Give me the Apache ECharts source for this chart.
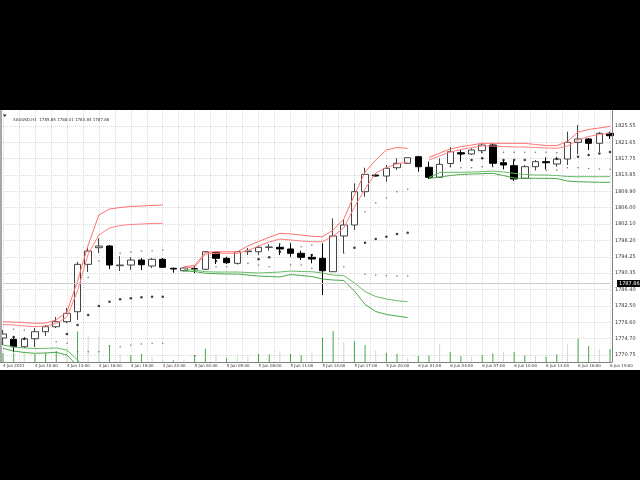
<!DOCTYPE html>
<html>
<head>
<meta charset="utf-8">
<script src="https://cdn.jsdelivr.net/npm/echarts@6/dist/echarts.min.js"></script>
<style>
html,body{margin:0;padding:0;background:#000;}
#c{width:640px;height:480px;}
</style>
</head>
<body>
<div id="c"></div>
<script>
const headerText = 'XAUUSD,H1  1785.85 1788.01 1783.84 1787.86';
const firstLabel = '4 Jun 2021';
const categories = [
 '4 Jun 07:00','4 Jun 08:00','4 Jun 09:00','4 Jun 10:00','4 Jun 11:00','4 Jun 12:00','4 Jun 13:00','4 Jun 14:00',
 '4 Jun 15:00','4 Jun 16:00','4 Jun 17:00','4 Jun 18:00','4 Jun 19:00','4 Jun 20:00','4 Jun 21:00','4 Jun 22:00',
 '4 Jun 23:00','5 Jun 01:00','5 Jun 02:00','5 Jun 03:00','5 Jun 04:00','5 Jun 05:00','5 Jun 06:00','5 Jun 07:00',
 '5 Jun 08:00','5 Jun 09:00','5 Jun 10:00','5 Jun 11:00','5 Jun 12:00','5 Jun 13:00','5 Jun 14:00','5 Jun 15:00',
 '5 Jun 16:00','5 Jun 17:00','5 Jun 18:00','5 Jun 19:00','5 Jun 20:00','5 Jun 21:00','5 Jun 23:00','6 Jun 01:00',
 '6 Jun 02:00','6 Jun 03:00','6 Jun 04:00','6 Jun 05:00','6 Jun 06:00','6 Jun 07:00','6 Jun 08:00','6 Jun 09:00',
 '6 Jun 10:00','6 Jun 11:00','6 Jun 12:00','6 Jun 13:00','6 Jun 14:00','6 Jun 15:00','6 Jun 16:00','6 Jun 17:00',
 '6 Jun 18:00','6 Jun 19:00'];
// [open, close, low, high]
const candles = [
[1774.82,1775.78,1773.14,1776.73],[1774.51,1772.74,1771.47,1775.13],[1772.74,1774.65,1772.43,1775.06],
[1774.65,1776.33,1772.66,1777.21],[1776.33,1777.52,1775.30,1777.93],[1777.52,1778.72,1777.21,1779.84],
[1778.72,1780.73,1778.41,1782.00],[1781.11,1792.45,1779.13,1793.08],[1792.45,1795.64,1790.61,1796.36],
[1796.43,1796.83,1795.16,1798.68],[1796.83,1792.29,1791.33,1797.07],[1792.12,1792.29,1790.85,1794.44],
[1792.29,1793.48,1791.09,1794.20],[1793.48,1792.36,1791.09,1793.96],[1792.05,1793.65,1791.57,1793.96],
[1793.65,1791.74,1791.57,1793.96],[1791.50,1791.33,1790.45,1791.64],[1790.92,1791.57,1790.73,1791.69],
[1791.40,1791.33,1790.37,1792.29],[1791.26,1795.47,1791.09,1795.64],[1795.33,1793.89,1792.53,1795.47],
[1793.89,1792.84,1792.53,1794.27],[1792.69,1795.47,1792.41,1795.52],[1795.47,1795.64,1794.68,1796.36],
[1795.47,1796.52,1794.68,1796.91],[1796.52,1796.59,1795.71,1797.31],[1796.52,1796.12,1794.68,1797.48],
[1796.12,1795.09,1794.27,1797.48],[1795.09,1794.13,1793.48,1795.71],[1794.13,1793.72,1792.69,1794.92],
[1793.89,1790.92,1785.11,1797.48],[1790.68,1799.23,1790.61,1803.46],[1799.23,1801.86,1795.16,1803.06],
[1801.86,1809.83,1800.66,1811.84],[1809.83,1813.99,1808.63,1815.57],[1813.82,1813.58,1813.47,1813.94],
[1813.58,1815.43,1812.22,1816.22],[1815.57,1816.62,1815.02,1817.82],[1816.62,1817.96,1816.62,1817.96],
[1818.20,1815.81,1814.61,1818.37],[1815.67,1813.27,1812.87,1817.01],[1813.27,1816.38,1813.23,1817.82],
[1816.58,1819.40,1815.74,1820.52],[1819.16,1818.85,1817.01,1819.81],[1818.85,1819.81,1818.61,1820.21],
[1819.64,1821.00,1819.02,1821.41],[1821.00,1816.62,1815.81,1821.41],[1816.77,1816.22,1815.19,1817.41],
[1816.05,1812.87,1812.39,1817.17],[1813.03,1815.81,1812.87,1816.22],[1815.81,1817.01,1815.02,1817.41],
[1817.01,1816.77,1815.19,1818.06],[1816.46,1817.65,1815.81,1818.20],[1817.65,1821.65,1816.22,1824.19],
[1821.65,1822.44,1818.78,1825.79],[1822.44,1821.41,1819.81,1822.68],[1821.41,1823.80,1819.33,1824.11],
[1823.80,1823.23,1822.44,1824.23]];
const upperBand1 = [1778.72,1778.65,1778.53,1778.34,1778.41,1779.13,1781.04,1788.46,1797.07,1804.25,1805.69,1806.05,1806.29,1806.41,1806.53,1806.65,null,
 1791.88,1792.17,1795.28,1795.47,1795.47,1795.47,1796.83,1797.91,1798.92,1799.87,1799.71,1799.47,1799.16,1799.06,1800.66,1803.30,1809.04,1814.54,1817.41,1819.81,1820.41,1820.21,null,
 1818.01,1819.09,1820.05,1820.60,1821.00,1821.41,1821.41,1821.41,1821.41,1821.41,1821.12,1820.88,1820.84,1821.84,1824.11,1824.71,1825.07,1825.48];
const upperBand2 = [1778.05,1777.93,1777.69,1777.52,1777.69,1778.29,1779.84,1786.07,1794.92,1799.47,1801.14,1801.74,1801.98,1802.10,1802.22,1802.27,null,
 1791.57,1791.81,1794.92,1795.09,1795.09,1795.09,1795.76,1796.83,1797.79,1798.51,1798.27,1798.03,1797.86,1797.86,1799.23,1801.14,1806.17,1810.47,1814.30,1815.62,1816.46,1816.94,null,
 1817.41,1818.37,1819.33,1819.93,1820.41,1820.76,1820.76,1820.64,1820.52,1820.52,1820.41,1820.29,1820.21,1820.76,1822.20,1823.04,1823.52,1823.87];
const lowerBand1 = [1773.14,1772.66,1772.43,1772.31,1772.35,1772.43,1771.95,1769.55,1766.68,null,null,null,null,null,null,null,null,
 1791.21,1791.09,1790.68,1790.61,1790.61,1790.61,1790.49,1790.37,1790.49,1790.61,1790.85,1790.73,1790.68,1790.37,1789.89,1789.77,1787.98,1785.95,1784.75,1784.15,1783.74,1783.50,null,
 1813.23,1814.42,1814.47,1814.47,1814.54,1814.61,1814.78,1814.54,1814.23,1813.94,1813.82,1813.82,1813.70,1813.47,1813.42,1813.42,1813.42,1813.42];
const lowerBand2 = [1772.35,1771.71,1771.35,1771.16,1771.23,1771.40,1770.75,1768.12,1764.77,null,null,null,null,null,null,null,null,
 1790.85,1790.73,1790.30,1790.21,1790.13,1790.13,1789.89,1789.65,1789.54,1789.42,1790.01,1789.77,1789.54,1788.94,1788.70,1788.58,1786.07,1782.83,1781.16,1780.44,1780.08,1779.68,null,
 1812.99,1813.35,1813.70,1813.94,1814.06,1814.14,1814.23,1813.70,1813.11,1813.03,1813.03,1813.03,1812.99,1812.39,1812.22,1812.15,1812.08,1812.08];
// [bar index, price]
const dotsUpper = [[1,1776.90],[2,1776.73],[8,1789.34],[9,1793.24],[11,1795.09],[12,1795.40],[13,1795.64],[14,1795.71],[15,1795.88],
 [26,1797.31],[27,1797.48],[28,1796.67],[29,1797.07],[32,1795.09],[34,1805.04],[35,1807.20],[36,1808.39],[37,1809.83],[38,1810.40],
 [45,1819.16],[47,1819.26],[48,1819.26],[49,1819.26],[50,1819.26],[51,1819.26],[52,1819.16]];
const dotsMiddle = [[1,1775.06],[2,1774.58],[6,1775.78],[7,1777.93],[8,1780.32],[9,1782.48],[10,1783.50],[11,1784.08],[12,1784.32],[13,1784.56],[14,1784.70],[15,1784.70],
 [20,1793.24],[24,1793.65],[25,1794.13],[26,1795.47],[29,1794.68],[33,1796.43],[34,1797.62],[35,1798.51],[36,1799.06],[37,1799.71],[38,1800.02],
 [43,1818.85],[44,1817.41],[45,1817.82],[47,1817.41],[48,1817.41],[49,1817.41],[52,1817.65],[54,1818.20],[55,1818.61],[56,1818.97],[57,1819.33]];
const dotsLower = [[5,1773.93],[6,1773.55],[7,1771.54],[8,1771.54],[9,1771.54],[10,1772.90],[11,1772.74],[12,1773.14],[13,1773.38],[14,1773.55],[15,1773.55],[18,1770.51],
 [20,1791.88],[21,1791.88],[23,1792.69],[24,1792.29],[25,1791.88],[27,1792.29],[28,1792.29],[29,1791.50],[32,1791.88],
 [34,1790.06],[35,1789.89],[36,1789.73],[37,1789.65],[38,1789.65],
 [42,1815.81],[43,1815.57],[44,1815.57],[45,1815.81],[46,1815.81],[50,1815.02],[51,1815.02],[52,1815.02],[53,1815.57],[54,1815.57],[55,1815.38],[56,1815.26],[57,1815.19]];
const volumeDark = [360,372,null,308,372,440,null,1220,null,null,668,null,280,332,null,null,68,null,280,532,null,172,null,null,332,308,null,332,280,null,
 972,1240,null,840,680,null,372,332,null,240,268,null,400,240,null,268,348,null,400,268,null,212,308,null,932,640,null,520];
const volumeLight = [null,null,440,null,null,null,508,null,1060,1020,null,320,null,null,212,120,null,108,null,null,308,null,268,240,null,null,440,null,null,372,
 null,null,800,null,null,468,null,null,172,null,null,708,null,null,212,null,null,400,null,null,240,null,null,708,null,null,520,null];
const yTicks = [1770.75,1774.70,1778.60,1782.50,1786.40,1790.35,1794.25,1798.20,1802.10,1806.00,1809.90,1813.85,1817.75,1821.65,1825.55];
const lastPrice = 1787.86;

const FONT = 'DejaVu Sans';
const chart = echarts.init(document.getElementById('c'));
chart.setOption({
  animation: false,
  backgroundColor: '#000',
  title: { text: headerText, left: 8, top: 113, textStyle: { fontSize: 4, color: '#333', fontWeight: 'normal', fontFamily: FONT } },
  graphic: [
    { type: 'rect', z: -100, silent: true, shape: { x: 0, y: 110, width: 640, height: 260 }, style: { fill: '#fff' } },
    { type: 'rect', z: 100, silent: true, shape: { x: 0, y: 110, width: 2, height: 252 }, style: { fill: '#a8a8a8' } },
    { type: 'line', z: 100, silent: true, shape: { x1: 612.5, y1: 110, x2: 612.5, y2: 362 }, style: { stroke: '#808080', lineWidth: 1 } },
    { type: 'line', z: 100, silent: true, shape: { x1: 0, y1: 362.5, x2: 612.5, y2: 362.5 }, style: { stroke: '#808080', lineWidth: 1 } },
    { type: 'polygon', z: 100, silent: true, shape: { points: [[3, 114.5], [6.5, 114.5], [4.75, 117]] }, style: { fill: '#222' } }
  ],
  grid: { left: 1, right: 30, top: 111, bottom: 118, containLabel: false },
  xAxis: [
    { type: 'category', data: categories, boundaryGap: false,
      axisLine: { show: false }, axisTick: { show: false }, splitLine: { show: false },
      axisLabel: { interval: 2, align: 'left', fontSize: 4, color: '#333', margin: 2, fontFamily: FONT,
        formatter: (v, i) => i === 0 ? firstLabel : v } },
    { type: 'value', min: 0, max: 57, interval: 1.5, position: 'bottom',
      axisLine: { show: false }, axisTick: { show: false }, axisLabel: { show: false },
      splitLine: { show: true, lineStyle: { color: '#dadada', type: 'dotted', width: 1 } } }
  ],
  yAxis: [
    { type: 'value', position: 'right', min: 1769.08, max: 1829.14,
      axisLine: { show: false }, axisTick: { show: false, customValues: yTicks },
      axisLabel: { customValues: yTicks, fontSize: 5, color: '#333', margin: 5, fontFamily: FONT,
        formatter: v => Number(v).toFixed(2) },
      splitLine: { show: true, lineStyle: { color: '#dadada', type: 'dotted', width: 1 } } },
    { type: 'value', min: 0, max: 10040, show: false, splitLine: { show: false } }
  ],
  series: [
    { type: 'bar', name: 'vol', data: volumeDark, xAxisIndex: 0, yAxisIndex: 1, barWidth: 1, barGap: '-100%',
      itemStyle: { color: '#45a845' }, z: 1, silent: true },
    { type: 'bar', name: 'vol2', data: volumeLight, xAxisIndex: 0, yAxisIndex: 1, barWidth: 1, barGap: '-100%',
      itemStyle: { color: '#c2e4c2' }, z: 1, silent: true },
    { type: 'candlestick', data: candles, barWidth: 7, z: 3,
      itemStyle: { color: '#fff', color0: '#000', borderColor: '#444', borderColor0: '#000', borderWidth: 1 },
      markLine: { symbol: 'none', silent: true, animation: false,
        data: [{ yAxis: lastPrice }],
        lineStyle: { color: '#c8c8c8', type: 'solid', width: 1 },
        label: { position: 'end', distance: 7, formatter: lastPrice.toFixed(2), backgroundColor: '#000', color: '#fff',
          fontSize: 5, padding: [1, 2], fontFamily: FONT } } },
    { type: 'line', data: upperBand1, symbol: 'none', z: 4, lineStyle: { color: '#ff7070', width: 1 } },
    { type: 'line', data: upperBand2, symbol: 'none', z: 4, lineStyle: { color: '#ff8080', width: 1 } },
    { type: 'line', data: lowerBand1, symbol: 'none', z: 4, lineStyle: { color: '#66bb66', width: 1 } },
    { type: 'line', data: lowerBand2, symbol: 'none', z: 4, lineStyle: { color: '#4aa84a', width: 1 } },
    { type: 'scatter', data: dotsUpper, symbolSize: 1.6, z: 5, itemStyle: { color: '#555' } },
    { type: 'scatter', data: dotsMiddle, symbolSize: 2.6, z: 5, itemStyle: { color: '#111' } },
    { type: 'scatter', data: dotsLower, symbolSize: 1.6, z: 5, itemStyle: { color: '#555' } }
  ]
});
</script>
</body>
</html>
